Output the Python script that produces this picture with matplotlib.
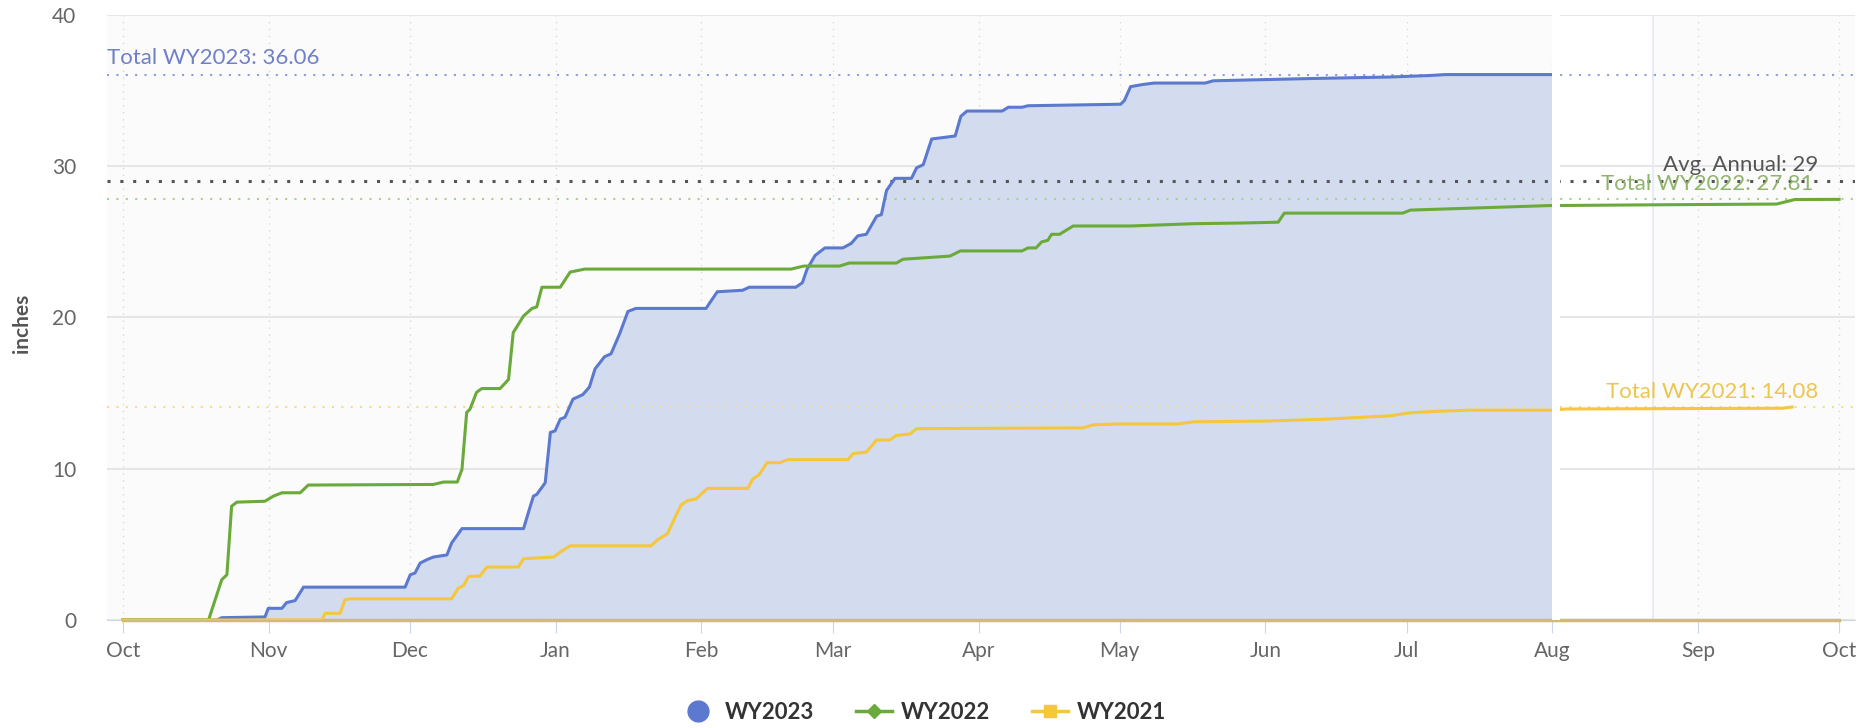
import matplotlib
matplotlib.use("Agg")
import matplotlib.pyplot as plt
import matplotlib.dates as mdates
from matplotlib.lines import Line2D
from matplotlib.transforms import blended_transform_factory
from datetime import datetime, timedelta

plt.rcParams['font.family'] = ['Lato', 'DejaVu Sans']

# water year starts Oct 1; x values are days since then
wy_start = datetime(2022, 10, 1)

wy2023_days = [0, 20, 21, 30.2, 30.9, 33.8, 34.8, 36.6, 38.4, 60.0, 61.1, 62.1, 63.2, 64.6,
               66.0, 68.9, 69.9, 72.1, 85.2, 86.2, 87.3, 88.0, 89.8, 90.9, 91.9, 93.0, 94.0,
               95.7, 97.8, 99.2, 100.4, 102.4, 103.8, 105.6, 107.4, 109.1, 124.0, 126.4,
               131.8, 133.2, 143.1, 144.5, 145.5, 147.2, 149.3, 153.1, 154.9, 156.3, 158.1,
               160.3, 161.3, 162.4, 164.2, 167.7, 168.8, 170.2, 172.0, 177.0, 178.2, 179.5,
               187.0, 188.3, 191.2, 192.5, 212.2, 213.0, 214.3, 216.8, 219.3, 230.2, 231.9,
               252.8, 269.6, 278.0, 281.3, 304.0]
wy2023_vals = [0, 0, 0.15, 0.2, 0.77, 0.77, 1.15, 1.28, 2.17, 2.17, 2.99, 3.1, 3.76, 3.98,
               4.16, 4.3, 5.09, 6.04, 6.04, 7.08, 8.19, 8.3, 9.07, 12.4, 12.5, 13.28, 13.4,
               14.6, 14.9, 15.4, 16.6, 17.4, 17.6, 18.9, 20.4, 20.6, 20.6, 21.7,
               21.8, 22.0, 22.0, 22.3, 23.2, 24.1, 24.6, 24.6, 24.9, 25.4, 25.5,
               26.7, 26.8, 28.4, 29.2, 29.2, 29.9, 30.1, 31.8, 32.0, 33.3, 33.65,
               33.65, 33.9, 33.9, 34.0, 34.1, 34.35, 35.26, 35.4, 35.5, 35.5, 35.65,
               35.8, 35.9, 36.0, 36.06, 36.06]

wy2022_days = [0, 18.2, 21.0, 22.1, 23.1, 24.2, 30.2, 32.0, 33.8, 37.7, 39.4, 66.0, 68.2,
               71.1, 72.1, 73.1, 73.8, 75.2, 76.3, 80.2, 82.0, 83.0, 85.2, 87.0, 88.0, 89.1,
               93.0, 95.1, 98.2, 142.1, 144.8, 152.4, 154.5, 164.5, 165.9, 175.9, 178.1,
               191.2, 192.5, 194.2, 195.4, 196.7, 197.5, 199.2, 202.1, 214.3, 227.7, 238.6,
               245.7, 247.0, 272.2, 273.8, 303.5, 326.0, 351.7, 355.6, 365.0]
wy2022_vals = [0, 0, 2.66, 2.99, 7.52, 7.79, 7.85, 8.19, 8.41, 8.41, 8.92, 8.96, 9.12,
               9.12, 9.96, 13.72, 13.94, 15.05, 15.3, 15.3, 15.9, 19.0, 20.1, 20.6, 20.7, 22.0,
               22.0, 23.0, 23.2, 23.2, 23.4, 23.4, 23.6, 23.6, 23.85, 24.06, 24.4,
               24.4, 24.6, 24.6, 25.0, 25.1, 25.5, 25.5, 26.05, 26.05, 26.2, 26.25,
               26.3, 26.9, 26.9, 27.1, 27.4, 27.45, 27.5, 27.8, 27.81]

wy2021_days = [0, 42.3, 43.0, 46.2, 47.2, 48.3, 69.9, 71.3, 72.4, 73.5, 75.9, 77.4, 84.1,
               85.2, 91.6, 93.0, 95.1, 112.3, 113.7, 115.8, 117.6, 118.7, 120.1, 121.9,
               124.3, 132.9, 133.9, 135.3, 137.0, 139.7, 141.4, 154.2, 155.3, 158.1, 160.3,
               163.1, 164.5, 167.4, 168.8, 204.2, 206.3, 211.8, 224.3, 227.7, 242.8, 255.3,
               269.6, 273.8, 279.7, 286.4, 303.5, 307.0, 353.0, 355.0]
wy2021_vals = [0, 0, 0.44, 0.44, 1.33, 1.4, 1.4, 2.1, 2.26, 2.88, 2.9, 3.5, 3.5,
               4.05, 4.16, 4.49, 4.9, 4.9, 5.3, 5.7, 6.9, 7.6, 7.9, 8.0,
               8.7, 8.7, 9.3, 9.6, 10.4, 10.4, 10.6, 10.6, 11.0, 11.1, 11.9,
               11.9, 12.2, 12.3, 12.65, 12.7, 12.9, 12.96, 12.96, 13.1, 13.15, 13.27,
               13.5, 13.7, 13.8, 13.87, 13.87, 13.95, 14.0, 14.08]

total_2023 = 36.06
total_2022 = 27.81
total_2021 = 14.08
avg_annual = 29

blue = '#5b79cf'
green = '#6aaa3a'
yellow = '#f5c73d'


def to_dates(days):
    return [wy_start + timedelta(days=d) for d in days]


d23 = to_dates(wy2023_days)
d22 = to_dates(wy2022_days)
d21 = to_dates(wy2021_days)
wy_end = wy_start + timedelta(days=365)

fig = plt.figure(figsize=(18.74, 7.28), dpi=100)
ax = fig.add_axes([0.0571, 0.1484, 0.9328, 0.831])
ax.set_facecolor('#fbfbfb')

ax.set_xlim(wy_start - timedelta(days=3.4), wy_end + timedelta(days=3.4))
ax.set_ylim(0, 40)

# odd white patch after the data cut-off, as in the screenshot
aug1 = datetime(2023, 8, 1)
ax.axvspan(aug1, aug1 + timedelta(days=21.5), color='white', zorder=0.5, lw=0)
ax.axvline(aug1 + timedelta(days=21.5), color='#e3e8f3', lw=1.2, zorder=0.6)

ax.fill_between(d23, wy2023_vals, 0, color='#d3dcee', lw=0, zorder=1)
ax.plot(d23, wy2023_vals, color=blue, lw=2.2, zorder=4)
ax.plot(d22, wy2022_vals, color=green, lw=2.2, zorder=4)
ax.plot(d21, wy2021_vals, color=yellow, lw=2.2, zorder=4)
ax.plot([wy_start, wy_end], [0, 0], color='#cfbc72', lw=2.5, zorder=3, clip_on=False)

ax.axvspan(aug1, aug1 + timedelta(days=1.7), color='white', zorder=5, lw=0)

# plot lines for totals and average
ax.axhline(total_2023, color='#8c9de0', lw=1.5, ls=(0, (1, 3.5)), zorder=2)
ax.axhline(avg_annual, color='#555555', lw=2.2, ls=(0, (1, 3.2)), zorder=2)
ax.axhline(total_2022, color='#a9d18e', lw=1.5, ls=(0, (1, 3.5)), zorder=2)
ax.axhline(total_2021, color='#f7dc8a', lw=1.5, ls=(0, (1, 3.5)), zorder=2)

tr = blended_transform_factory(ax.transAxes, ax.transData)
ax.text(0.0, total_2023 + 0.45, 'Total WY2023: 36.06', transform=tr, color='#6f80c9',
        fontsize=16, ha='left', va='bottom', zorder=6)
ax.text(0.979, avg_annual + 0.4, 'Avg. Annual: 29', transform=tr, color='#555555',
        fontsize=16, ha='right', va='bottom', zorder=6)
ax.text(0.976, total_2022 + 0.35, 'Total WY2022: 27.81', transform=tr, color='#8fb56c',
        fontsize=16, ha='right', va='bottom', zorder=6)
ax.text(0.979, total_2021 + 0.3, 'Total WY2021: 14.08', transform=tr, color='#ecc64e',
        fontsize=16, ha='right', va='bottom', zorder=6)

ax.xaxis.set_major_locator(mdates.MonthLocator())
ax.xaxis.set_major_formatter(mdates.DateFormatter('%b'))
ax.set_yticks([0, 10, 20, 30, 40])

ax.grid(axis='y', color='#e6e6e6', lw=1.5, zorder=0)
ax.grid(axis='x', color='#d9d9d9', lw=1, ls=(0, (1, 4)), zorder=0)
ax.set_axisbelow(True)

for s in ['top', 'right', 'left']:
    ax.spines[s].set_visible(False)
ax.spines['bottom'].set_color('#ccd6eb')
ax.tick_params(axis='x', length=9, color='#ccd6eb', labelsize=15, labelcolor='#666666', pad=6)
ax.tick_params(axis='y', length=0, labelsize=15, labelcolor='#666666', pad=22)

fig.text(22 / 1874, 1 - 323 / 728, 'inches', rotation=90, ha='center', va='center',
         fontsize=15, fontweight='bold', color='#555555')

handles = [
    Line2D([], [], color=blue, marker='o', ls='none', markersize=15),
    Line2D([], [], color=green, marker='D', lw=2.5, markersize=7),
    Line2D([], [], color=yellow, marker='s', lw=2.5, markersize=9),
]
fig.legend(handles, ['WY2023', 'WY2022', 'WY2021'], loc='center',
           bbox_to_anchor=(0.4926, 0.021), ncol=3, frameon=False,
           prop={'size': 16, 'weight': 'bold'}, labelcolor='#333333',
           handlelength=1.6, handletextpad=0.4, columnspacing=1.9)

fig.savefig('out.png', dpi=100)
